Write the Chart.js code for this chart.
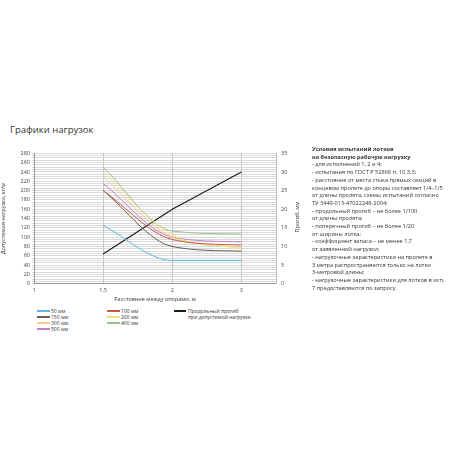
<!DOCTYPE html>
<html>
<head>
<meta charset="utf-8">
<script src="https://cdn.jsdelivr.net/npm/chart.js@4/dist/chart.umd.min.js"></script>
<style>
  body { margin: 0; width: 458px; height: 458px; background: #fff; position: relative; overflow: hidden; font-family: "Open Sans", "DejaVu Sans", sans-serif; color: #333; }
  #title { position: absolute; left: 10px; top: 123px; font-size: 9.5px; }
  #wrap { position: absolute; left: 0; top: 145px; width: 306px; height: 158px; }
  #legend { position: absolute; left: 0; top: 0; width: 300px; font-size: 5px; }
  .lg { position: absolute; white-space: nowrap; line-height: 6px; }
  .lg i { position: absolute; left: 0; top: 2.3px; width: 13px; height: 1.5px; }
  .lg span { position: absolute; left: 14px; top: 0; }
  #y1title { position: absolute; left: 297px; top: 217px; font-size: 5.5px; white-space: nowrap; transform: translate(-50%, -50%) rotate(-90deg); color: #333; }
  #notes { position: absolute; left: 312px; top: 146px; font-size: 5.6px; line-height: 7.7px; white-space: nowrap; color: #333; }
  #notes b { font-weight: 700; }
</style>
</head>
<body>
<div id="title">Графики нагрузок</div>
<div id="wrap"><canvas id="loadChart"></canvas></div>
<div id="y1title">Прогиб, мм</div>
<div id="legend"></div>
<div id="notes">
<b>Условия испытаний лотков</b><br>
<b>на безопасную рабочую нагрузку</b><br>
- для исполнений 1, 2 и 4;<br>
- испытания по ГОСТ Р 52868 п. 10.3.3;<br>
- расстояние от места стыка прямых секций в<br>
концевом пролете до опоры составляет 1/4–1/5<br>
от длины пролета, схемы испытаний согласно<br>
ТУ 3449-013-47022248-2004;<br>
- продольный прогиб – не более 1/100<br>
от длины пролета;<br>
- поперечный прогиб – не более 1/20<br>
от ширины лотка;<br>
- коэффициент запаса – не менее 1,7<br>
от заявленной нагрузки;<br>
- нагрузочные характеристики на пролете в<br>
3 метра распространяются только на лотки<br>
3-метровой длины;<br>
- нагрузочные характеристики для лотков в исп.<br>
7 предоставляются по запросу.
</div>
<script>
// x axis categories (distance between supports, m)
var xLabels = ['1', '1.5', '2', '3'];
var spans = ['1.5', '2', '3'];

// allowable load, kg/m, per tray width
var load50 = [125, 50, 50];
var load100 = [200, 95, 83];
var load150 = [200, 80, 70];
var load200 = [240, 105, 75];
var load300 = [230, 100, 78];
var load400 = [250, 113, 107];
var load500 = [215, 100, 90];

// longitudinal deflection at allowable load, mm
var deflection = [8, 20, 30];

var seriesNames = ['50 мм', '100 мм', '150 мм', '200 мм', '300 мм', '400 мм', '500 мм'];
var seriesValues = [load50, load100, load150, load200, load300, load400, load500];
var seriesColors = ['#5bb7dd', '#c55a4a', '#6a5d52', '#eee27a', '#f3c98e', '#9dbf8e', '#c084bc'];
var deflectionName = 'Продольный прогиб при допустимой нагрузке';

function toPoints(values){
    var pts = [];
    for(var i=0; i<spans.length; i+=1){
        pts.push({x: xLabels.indexOf(spans[i]), y: values[i]});
    }
    return pts;
}

var datasets = [];
for(var i=0; i<seriesNames.length; i+=1){
    datasets.push({
        label: seriesNames[i],
        data: toPoints(seriesValues[i]),
        borderColor: seriesColors[i],
        borderWidth: 1,
        pointRadius: 0,
        cubicInterpolationMode: 'monotone',
        yAxisID: 'y'
    });
}
datasets.push({
    label: deflectionName,
    data: toPoints(deflection),
    borderColor: '#1a1a1a',
    borderWidth: 1.1,
    pointRadius: 0,
    tension: 0,
    yAxisID: 'y1'
});

var tickFont = {family: 'Open Sans', size: 5.5};

var myChart = new Chart(document.getElementById('loadChart'), {
    type: 'line',
    data: {datasets: datasets},
    options: {
        responsive: true,
        maintainAspectRatio: false,
        animation: false,
        layout: {padding: {top: 6, left: 0, right: 0, bottom: 0}},
        plugins: {legend: {display: false}, tooltip: {enabled: false}},
        scales: {
            x: {
                type: 'linear',
                min: 0,
                max: 3.5,
                afterBuildTicks: function(axis){
                    axis.ticks = xLabels.map(function(l, i){ return {value: i}; });
                },
                ticks: {
                    font: tickFont, color: '#444', padding: 3,
                    callback: function(v){ return xLabels[v]; }
                },
                grid: {color: '#b5b5b5', lineWidth: 0.8, tickLength: 0},
                border: {color: '#999'},
                title: {display: true, text: 'Расстояние между опорами, м', font: tickFont, color: '#333', padding: {top: 0, bottom: 0}}
            },
            y: {
                position: 'left',
                min: 0,
                max: 280,
                afterFit: function(axis){ axis.width = 34; },
                ticks: {
                    stepSize: 5, autoSkip: false, font: tickFont, color: '#444', padding: 2,
                    callback: function(v){ return v % 20 === 0 ? v : ''; }
                },
                grid: {color: '#cfcfcf', lineWidth: 0.8, tickLength: 2},
                border: {color: '#999'},
                title: {display: true, text: 'Допустимая нагрузка, кг/м', font: tickFont, color: '#333', padding: 0}
            },
            y1: {
                position: 'right',
                min: 0,
                max: 35,
                afterFit: function(axis){ axis.width = 30; },
                ticks: {stepSize: 5, font: tickFont, color: '#444', padding: 5},
                grid: {drawOnChartArea: false, tickLength: 0},
                border: {color: '#bbb'},
                title: {display: false}
            }
        }
    }
});

// legend laid out in columns like the original
var legendSlots = [
    [0, 37, 308], [2, 37, 314], [4, 37, 320], [6, 37, 326],
    [1, 107, 308], [3, 107, 314], [5, 107, 320]
];
var legendBox = document.getElementById('legend');
for(var k=0; k<legendSlots.length; k+=1){
    var s = legendSlots[k];
    var d = document.createElement('div');
    d.className = 'lg';
    d.style.left = s[1] + 'px';
    d.style.top = s[2] + 'px';
    d.innerHTML = '<i style="background:' + seriesColors[s[0]] + '"></i><span>' + seriesNames[s[0]] + '</span>';
    legendBox.appendChild(d);
}
var dl = document.createElement('div');
dl.className = 'lg';
dl.style.left = '174px';
dl.style.top = '308px';
dl.innerHTML = '<i style="background:#1a1a1a;width:12px"></i><span>Продольный прогиб<br>при допустимой нагрузке</span>';
legendBox.appendChild(dl);
</script>
</body>
</html>
